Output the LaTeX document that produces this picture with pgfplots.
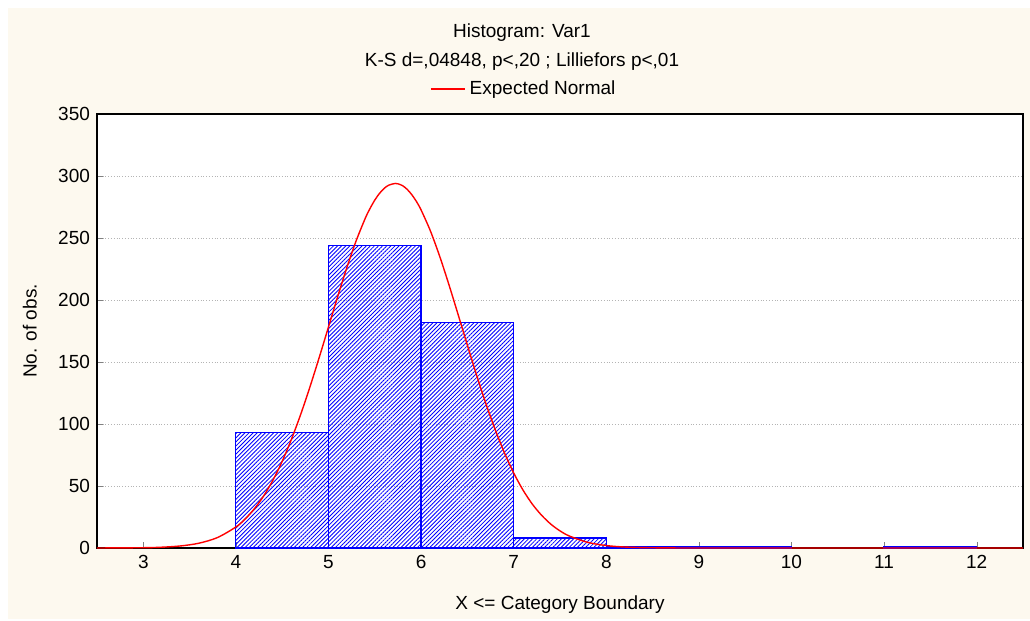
\documentclass[border=0pt]{standalone}
\usepackage{fontspec}
\setmainfont{Liberation Sans}
\usepackage{pgfplots}
\pgfplotsset{compat=1.18}
\usetikzlibrary{patterns.meta,backgrounds,calc}
\definecolor{cream}{RGB}{253,249,239}
\definecolor{barblue}{RGB}{0,0,255}
\definecolor{gridgray}{RGB}{180,180,180}

\begin{document}
\begin{tikzpicture}[font=\fontsize{9.5}{11}\selectfont]
\begin{axis}[
  name=ax,
  scale only axis,
  width=463pt, height=217pt,
  xmin=2.5, xmax=12.5, ymin=0, ymax=350,
  xtick={3,...,12}, ytick={0,50,...,350},
  tick align=inside, xtick pos=bottom, ytick pos=left,
  major tick length=3pt,
  ymajorgrids,
  grid style={gridgray, densely dotted, line width=0.4pt},
  axis line style={line width=0.7pt},
  axis background/.style={fill=white},
  /pgf/number format/assume math mode=true,
  tick label style={font=\fontsize{9.5}{11}\selectfont},
  xlabel={X <= Category Boundary},
  ylabel={No. of obs.},
  xlabel style={at={(axis description cs:0.5,-0.131)}, anchor=center},
  ylabel style={at={(axis description cs:-0.0724,0.5)}, anchor=center},
  legend style={at={(axis description cs:0.462,1.0576)}, anchor=center,
                draw=none, fill=none, font=\fontsize{9.5}{11}\selectfont},
  legend cell align=left,
]

% histogram counts
\addplot[ybar interval, draw=barblue, line width=0.6pt,
  pattern={Lines[angle=45,distance=1.45pt,line width=0.42pt]}, pattern color=barblue,
  forget plot] coordinates {
  (4,93) (5,244) (6,182) (7,8) (8,1) (9,1) (10,1)
};
\addplot[ybar interval, draw=barblue, line width=0.6pt,
  pattern={Lines[angle=45,distance=1.45pt,line width=0.42pt]}, pattern color=barblue,
  forget plot] coordinates {
  (11,1) (12,1)
};

% expected normal
\addplot[red, line width=0.7pt, smooth, tension=0.5] coordinates {
  (2.5,0.01) (3.0,0.23) (3.2,0.64) (3.4,1.64) (3.6,3.85) (3.8,8.39)
  (4.0,16.95) (4.1,23.4) (4.2,31.7) (4.3,42.0) (4.4,54.7) (4.5,69.9)
  (4.6,87.7) (4.7,107.8) (4.8,130.0) (4.9,153.7) (5.0,178.3) (5.1,202.9)
  (5.2,226.5) (5.3,248.0) (5.4,266.4) (5.45,274.0) (5.5,280.6) (5.55,285.9)
  (5.6,289.9) (5.65,292.6) (5.72,294.0) (5.75,293.7)
  (5.8,292.2) (5.85,289.2) (5.9,284.9) (5.95,279.4) (6.0,272.6) (6.1,255.8)
  (6.2,235.4) (6.3,212.5)
  (6.4,188.2) (6.5,163.5) (6.6,139.3) (6.7,116.4) (6.8,95.5) (6.9,76.8)
  (7.0,60.5) (7.1,46.8) (7.2,35.5) (7.3,26.5) (7.4,19.3) (7.5,13.8)
  (7.6,9.7) (7.8,4.53) (8.0,1.95) (8.2,0.78) (8.4,0.29) (8.7,0.06)
  (9.0,0.01) (10.0,0) (12.5,0)
};
\addlegendentry{Expected Normal}
\end{axis}

\node at ($(ax.south west)+(212.5pt,257.5pt)$) {Histogram: Var1};
\node at ($(ax.south west)+(212.5pt,243pt)$) {K-S d=,04848, p<,20 ; Lilliefors p<,01};

\begin{scope}[on background layer]
  \fill[white] ($(ax.south west)+(-48.5pt,-35.5pt)$) rectangle ($(ax.south west)+(466.5pt,274pt)$);
  \fill[cream] ($(ax.south west)+(-44.5pt,-35.5pt)$) rectangle ($(ax.south west)+(466.5pt,270pt)$);
\end{scope}
\end{tikzpicture}
\end{document}
